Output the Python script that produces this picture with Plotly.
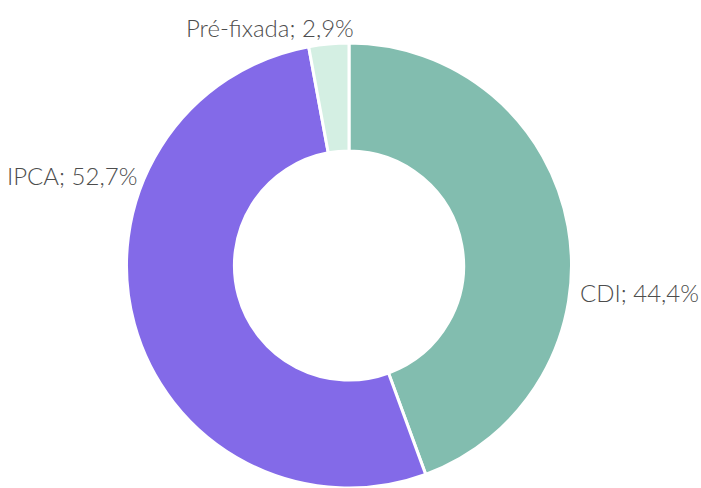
import plotly.graph_objects as go

labels = ["CDI", "IPCA", "Pré-fixada"]
values = [44.4, 52.7, 2.9]
colors = ["#82BDAF", "#836AE8", "#D4EFE3"]

texts = [f"{l}; {str(v).replace('.', ',')}%" for l, v in zip(labels, values)]

# label placement (layout only): pixel centres converted to paper coords
W, H = 701, 488
MT, MB, ML, MR = 43, 0, 0, 3
label_pos = {
    "CDI": dict(px=639, py=292),
    "IPCA": dict(px=72, py=175),
    "Pré-fixada": dict(px=270, py=27),
}

fig = go.Figure(go.Pie(
    labels=labels,
    values=values,
    textinfo="none",
    hole=0.515,
    sort=False,
    direction="clockwise",
    rotation=0,
    marker=dict(colors=colors, line=dict(color="white", width=3)),
    showlegend=False,
    hoverinfo="label+percent",
    domain=dict(x=[0, 1], y=[0, 1]),
))

pw = W - ML - MR
ph = H - MT - MB
for lab, txt in zip(labels, texts):
    p = label_pos[lab]
    fig.add_annotation(
        text=txt,
        xref="paper", yref="paper",
        x=(p["px"] - ML) / pw,
        y=(H - MB - p["py"]) / ph,
        xanchor="center", yanchor="middle",
        showarrow=False,
        font=dict(family="Lato, 'Open Sans', sans-serif", size=24, color="#4d4d4d", weight=300),
    )

fig.update_layout(
    width=W, height=H,
    margin=dict(l=ML, r=MR, t=MT, b=MB),
    paper_bgcolor="white",
    plot_bgcolor="white",
)

fig.write_html(
    "out.html",
    config={"displayModeBar": False},
    post_script="document.body.style.margin='0';document.body.style.overflow='hidden';",
)
